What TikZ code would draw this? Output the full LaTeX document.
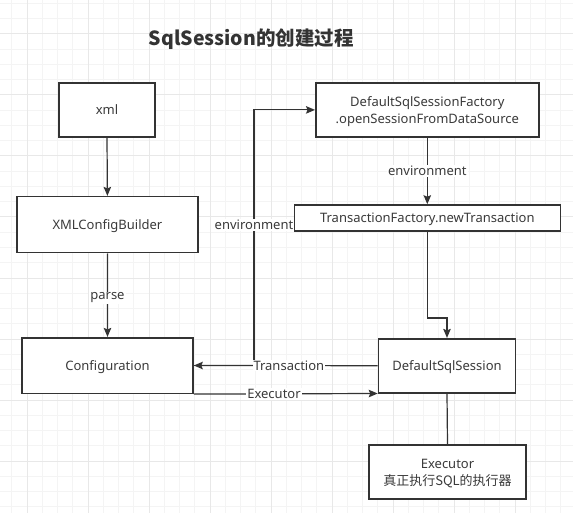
\documentclass[tikz,border=0pt]{standalone}
\usepackage{fontspec}
\setmainfont{Noto Sans}
\newfontfamily\cjk{Noto Sans CJK SC}
\usetikzlibrary{arrows.meta}
\definecolor{ink}{HTML}{333333}
\definecolor{txt}{HTML}{3A3A3A}
\definecolor{gridminor}{HTML}{F4F4F4}
\definecolor{gridmajor}{HTML}{E8E8E8}
\tikzset{
  box/.style={draw=ink, line width=1.6pt, fill=white, text=txt, align=center, inner sep=2pt,
    font=\fontsize{13}{16.4}\selectfont},
  oneline/.style={text height=9.3pt, text depth=0pt},
  twolines/.style={label={[text=txt, align=center, font=\fontsize{13}{16.4}\selectfont, yshift=-1.5pt]center:#1}},
  conn/.style={draw=ink, line width=1.2pt},
  arr/.style={conn, -{Stealth[length=9pt,width=7.5pt,inset=1.5pt]}},
  lbl/.style={fill=white, text=txt, inner sep=1pt, font=\fontsize{13}{16}\selectfont},
}
\begin{document}
\begin{tikzpicture}[x=1pt,y=-1pt]
\useasboundingbox (0,0) rectangle (573,513);
\fill[white] (0,0) rectangle (573,513);
% grid
\foreach \i in {0,...,37} {
  \pgfmathsetmacro\xx{11.75+15.25*\i}
  \draw[gridminor, line width=1pt] (\xx,0) -- (\xx,513);
}
\foreach \i in {0,...,33} {
  \pgfmathsetmacro\yy{3.5+15.25*\i}
  \draw[gridminor, line width=1pt] (0,\yy) -- (573,\yy);
}
\foreach \i in {0,...,9} {
  \pgfmathsetmacro\xx{27+61*\i}
  \draw[gridmajor, line width=1pt] (\xx,0) -- (\xx,513);
}
\foreach \i in {0,...,8} {
  \pgfmathsetmacro\yy{34+61*\i}
  \draw[gridmajor, line width=1pt] (0,\yy) -- (573,\yy);
}
% title
\node[text=ink, font=\cjk\bfseries\fontsize{19.5}{22}\selectfont] (title) at (251.3,39) {SqlSession的创建过程};
% boxes
\node[box, oneline, minimum width=96pt, minimum height=54pt] (xml) at (107,110) {xml};
\node[box, oneline, minimum width=181pt, minimum height=56pt] (xcb) at (107.4,224.7) {XMLConfigBuilder};
\node[box, oneline, minimum width=171pt, minimum height=55.6pt] (conf) at (107.5,365.5) {Configuration};
\node[box, minimum width=223pt, minimum height=54.3pt,
  twolines={DefaultSqlSessionFactory\\.openSessionFromDataSource}] (dssf) at (427.3,109.9) {};
\node[box, oneline, minimum width=266pt, minimum height=26pt] (tf) at (427.3,218) {TransactionFactory.newTransaction};
\node[box, oneline, minimum width=137pt, minimum height=54pt] (dss) at (447,365.7) {DefaultSqlSession};
\node[box, minimum width=157.5pt, minimum height=54pt,
  twolines={Executor\\{\cjk 真正执行SQL的执行器}}] (exe) at (447.5,472) {};
% helper coordinates
\coordinate (envx) at (254,0);
\coordinate (bend) at (0,318);
% connectors
\draw[arr] (xml.south) -- (xcb.north);
\draw[arr] (xcb.south) -- node[lbl, pos=0.53] {parse} (conf.north);
\draw[arr] (dssf.south) -- node[lbl] {environment} (tf.north);
\draw[arr] (conf.east) -- (conf.east -| envx) -- node[lbl, pos=0.55] {environment} (envx |- dssf.west) -- (dssf.west);
\draw[arr] (dss.west) -- node[lbl, pos=0.483] {Transaction} (conf.east);
\draw[arr] (conf.south east) -- node[lbl, pos=0.436] {Executor} (dss.south west);
\draw[arr] (tf.south) -- (tf.south |- bend) -- (dss.north |- bend) -- (dss.north);
\draw[conn] (dss.south) -- (exe.north);
\end{tikzpicture}
\end{document}
